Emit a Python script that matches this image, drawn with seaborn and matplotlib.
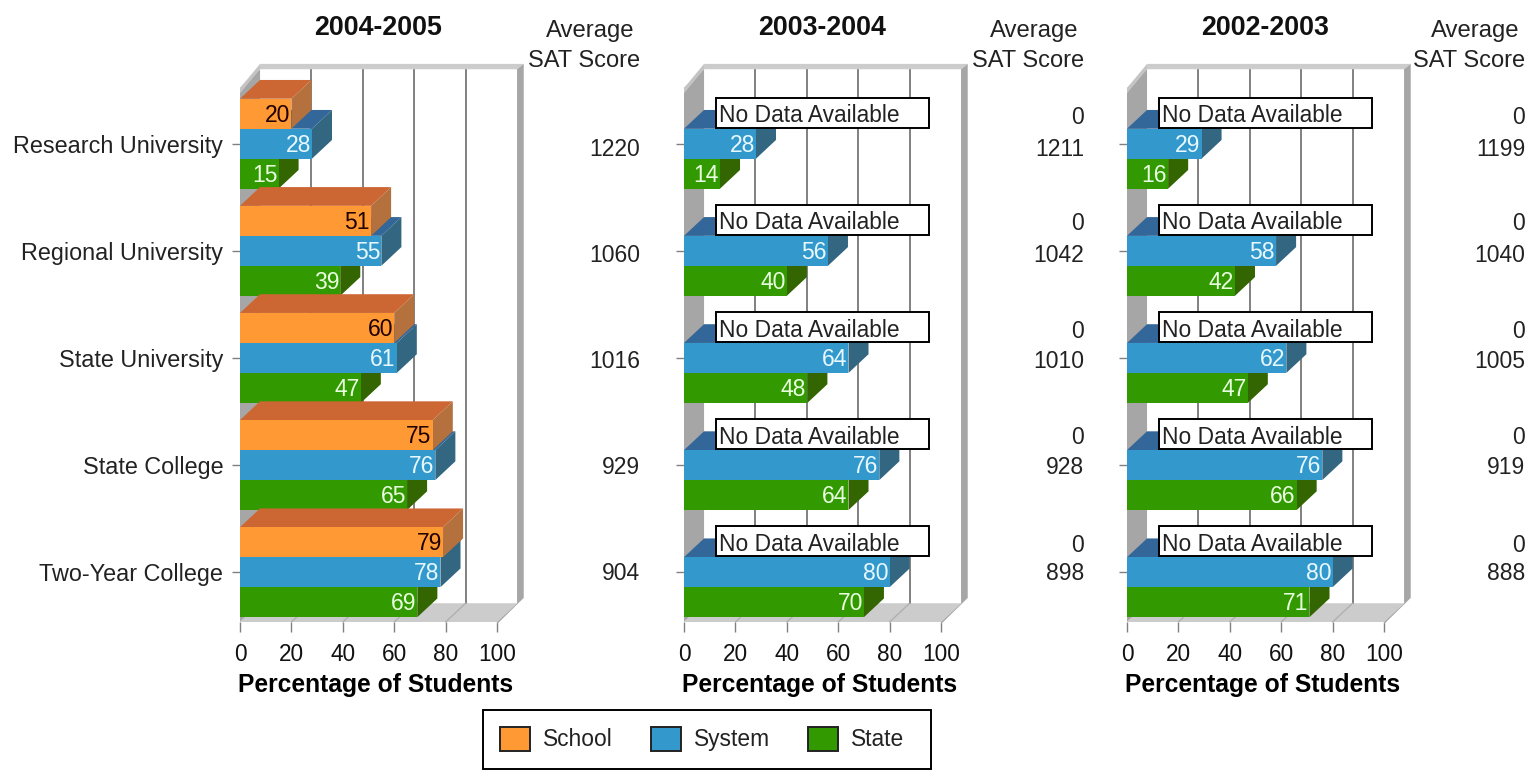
import numpy as np
import pandas as pd
import seaborn as sns
import matplotlib.pyplot as plt
from matplotlib.patches import Patch, Polygon, Rectangle
from matplotlib.colors import to_hex

categories = ['Research University', 'Regional University', 'State University', 'State College', 'Two-Year College']
series_names = ['School', 'System', 'State']
years = ['2004-2005', '2003-2004', '2002-2003']

school = [[20, 51, 60, 75, 79], [np.nan] * 5, [np.nan] * 5]
system = [[28, 55, 61, 76, 78], [28, 56, 64, 76, 80], [29, 58, 62, 76, 80]]
state = [[15, 39, 47, 65, 69], [14, 40, 48, 64, 70], [16, 42, 47, 66, 71]]
sat_scores = [[1220, 1060, 1016, 929, 904], [1211, 1042, 1010, 928, 898], [1199, 1040, 1005, 919, 888]]
school_sat = [None, [0, 0, 0, 0, 0], [0, 0, 0, 0, 0]]
x_ticks = [0, 20, 40, 60, 80, 100]

colors = {'School': '#FF9933', 'System': '#3399CC', 'State': '#339900'}
top_colors = {'School': '#CC6633', 'System': '#336699', 'State': '#336600'}
side_colors = {'School': '#B5713D', 'System': '#336680', 'State': '#336600'}
text_colors = {'School': '#200000', 'System': '#E8F8FF', 'State': '#E8FFE0'}
levels = {'School': 5, 'System': 4, 'State': 3}
hex_to_name = {to_hex(v): k for k, v in colors.items()}

W, H = 1533, 770
PANEL_X = [240, 684, 1127]
HEAD_X = [640, 1084, 1525]
PANEL_W = 257
TOP, BOTTOM = 88, 622
DX = 7.8        # depth of the fake 3d, x units
DY = 0.175      # depth of the fake 3d, category units
FONT = 'Liberation Sans'

sns.set_style('white')
plt.rcParams['font.family'] = [FONT, 'DejaVu Sans']
fig = plt.figure(figsize=(W / 100, H / 100), dpi=100)


def px_axes(left, top, width, height):
    return fig.add_axes([left / W, 1 - (top + height) / H, width / W, height / H])


def draw_walls(ax):
    y0, y1 = ax.get_ylim()
    band = 2.6
    by = 0.05
    ax.add_patch(Polygon([(0, y1), (DX, y1 - DY), (DX, y0 - DY), (0, y0)], fc='#A6A6A6', ec='none', zorder=1, clip_on=False))
    ax.add_patch(Polygon([(0, y0), (DX, y0 - DY), (100 + DX, y0 - DY), (100, y0)], fc='#CCCCCC', ec='none', zorder=1, clip_on=False))
    ax.add_patch(Polygon([(DX, y1 - DY - by), (100 + DX + band, y1 - DY - by), (100 + DX, y1 - DY), (DX, y1 - DY)], fc='#CCCCCC', ec='none', zorder=2, clip_on=False))
    ax.add_patch(Polygon([(0, y1), (DX, y1 - DY - by), (DX, y1 - DY), (0, y1 + by)], fc='#C4C4C4', ec='none', zorder=2, clip_on=False))
    ax.add_patch(Polygon([(100 + DX, y1 - DY), (100 + DX + band, y1 - DY - by), (100 + DX + band, y0 - DY - by), (100, y0 + 0.02), (100, y0), (100 + DX, y0 - DY)], fc='#A6A6A6', ec='none', zorder=2, clip_on=False))
    for t in x_ticks[1:-1]:
        ax.plot([t + DX, t + DX], [y1 - DY, y0 - DY], color='#808080', lw=1.4, zorder=1.5, clip_on=False)
        ax.plot([t, t + DX], [y0, y0 - DY], color='#B0B0B0', lw=1, zorder=1.5, clip_on=False)


def draw_bar_faces(ax):
    for p in list(ax.patches):
        name = hex_to_name.get(to_hex(p.get_facecolor()))
        w = p.get_width()
        if name is None or not np.isfinite(w) or w == 0:
            continue
        y, h = p.get_y(), p.get_height()
        z = levels[name]
        p.set_zorder(z + 0.2)
        ax.add_patch(Polygon([(0, y), (DX, y - DY), (w + DX, y - DY), (w, y)], fc=top_colors[name], ec='none', zorder=z, clip_on=False))
        ax.add_patch(Polygon([(w, y), (w + DX, y - DY), (w + DX, y + h - DY), (w, y + h)], fc=side_colors[name], ec='none', zorder=z + 0.1, clip_on=False))
        ax.text(w - 0.4, y + h / 2 + 0.015, f'{w:.0f}', ha='right', va='center', fontsize=16.5, color=text_colors[name], zorder=20)


for i, year in enumerate(years):
    df = pd.concat([
        pd.DataFrame({'category': categories, 'series': name, 'value': vals[i]})
        for name, vals in zip(series_names, [school, system, state])
    ], ignore_index=True)
    ax = px_axes(PANEL_X[i], TOP, PANEL_W, BOTTOM - TOP)
    sns.barplot(data=df, y='category', x='value', hue='series', order=categories, hue_order=series_names,
                palette=colors, saturation=1, width=0.84, orient='h', legend=False, ax=ax, errorbar=None,
                edgecolor='none', linewidth=0)
    ax.set_xlim(0, 100)
    ax.set_ylim(4.465, -0.52)
    draw_bar_faces(ax)
    draw_walls(ax)
    sns.despine(ax=ax, left=True, bottom=True, top=True, right=True)
    ax.patch.set_visible(False)

    ax.set_xticks(x_ticks)
    ax.tick_params(axis='x', length=7, width=1, color='#808080', labelsize=16.3, pad=8, bottom=True, labelcolor='#111111')
    ax.tick_params(axis='y', length=6, width=1, color='#808080', labelsize=16.8, pad=6, left=True, labelcolor='#222222',
                   labelleft=(i == 0))
    ax.set_xlabel('Percentage of Students', fontsize=17.7, fontweight='bold', color='black', labelpad=5, x=0.527)
    ax.set_ylabel('')

    fig.text((PANEL_X[i] + 138) / W, 1 - 28 / H, year, ha='center', va='center', fontsize=19.3, fontweight='bold', color='#111111')
    head_x = HEAD_X[i]
    fig.text((head_x - 6) / W, 1 - 31 / H, 'Average', ha='right', va='center', fontsize=17.2, color='#222222')
    fig.text(head_x / W, 1 - 61 / H, 'SAT Score', ha='right', va='center', fontsize=17, color='#222222')

    for j, score in enumerate(sat_scores[i]):
        fig.text(head_x / W, 1 - (149 + j * 106) / H, str(score), ha='right', va='center', fontsize=16.5, color='#222222')
        if school_sat[i] is not None:
            fig.text(head_x / W, 1 - (117 + j * 107) / H, str(school_sat[i][j]), ha='right', va='center', fontsize=16.5, color='#222222')
            ax.add_patch(Rectangle((12.4, j - 0.43), 82.8, 0.28, fc='white', ec='black', lw=1.4, zorder=15))
            ax.text(13.6, j - 0.26, 'No Data Available', ha='left', va='center', fontsize=16.4, color='#222222', zorder=20)

handles = [Patch(facecolor=colors[n], edgecolor='#222222', linewidth=1.4) for n in series_names]
fig.add_artist(Rectangle((483 / W, 1 - 769 / H), 448 / W, 59 / H, transform=fig.transFigure, fc='white', ec='black', lw=1.4))
leg = fig.legend(handles, series_names, loc='center left', bbox_to_anchor=(500 / W, 1 - 739 / H), ncol=3, frameon=False,
                 fontsize=16.4, handlelength=1.32, handleheight=1.28, columnspacing=1.67, handletextpad=0.57,
                 borderpad=0, borderaxespad=0, labelcolor='#222222')

plt.savefig('out.png', dpi=100)
